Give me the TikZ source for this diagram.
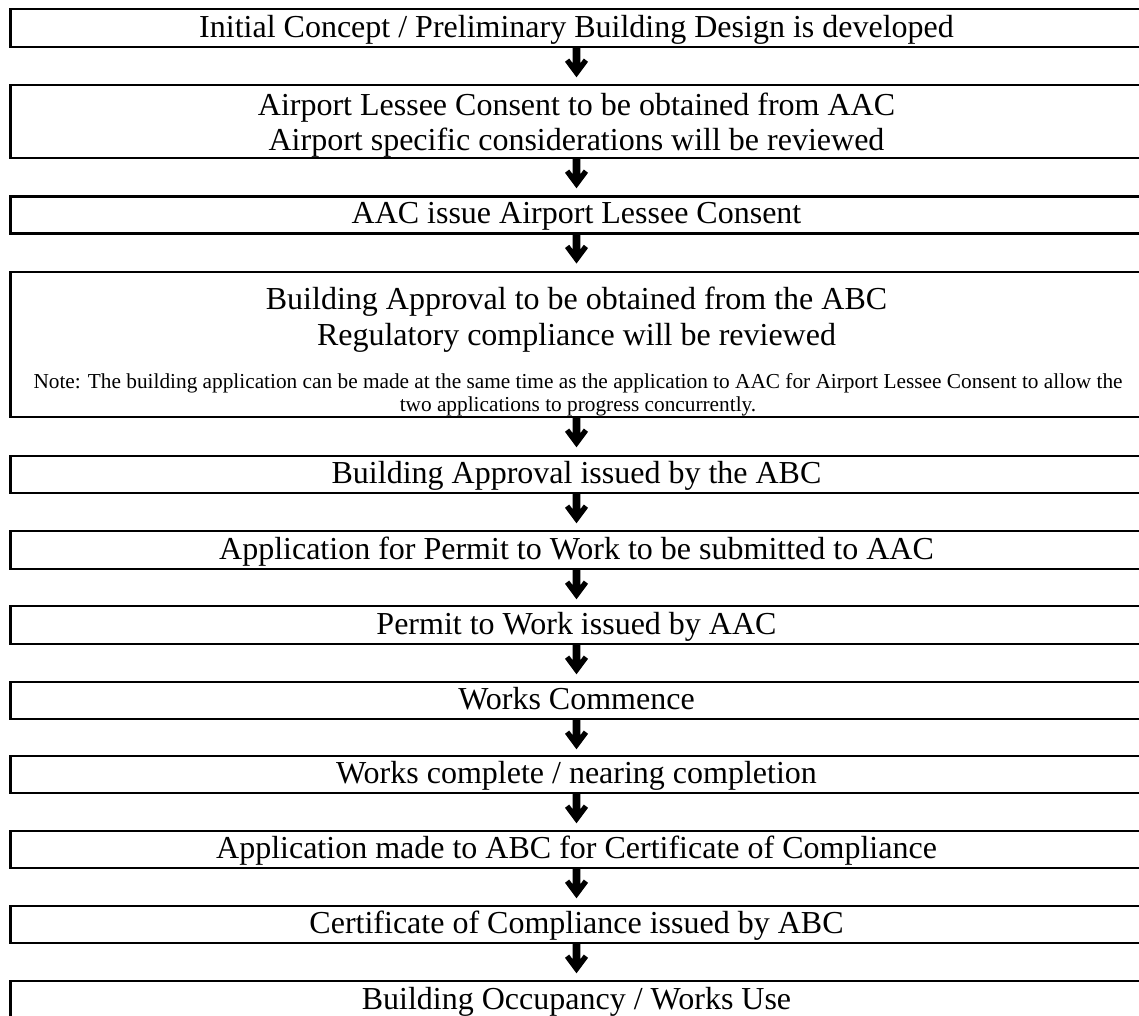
\documentclass[tikz,border=0pt]{standalone}
\usepackage{fontspec}
\setmainfont{Liberation Serif}
\tikzset{
  box/.style={draw=black, line width=2.6pt, minimum width=1132pt, inner sep=0pt, anchor=center},
  maintext/.style={font=\fontsize{32}{36}\selectfont, anchor=base, inner sep=0pt},
  notetext/.style={font=\fontsize{21.3}{23}\selectfont, anchor=base, inner sep=0pt},
  flow/.style={fill=black}
}
\newcommand{\flowarrow}[2]{%
  \fill[flow, shift={(#1.south)}] (-3.8,-1) -- (3.8,-1) -- (3.8,15) -- (7.3,10.2) -- (11.5,13.5)
    -- (0,29) -- (-11.5,13.5) -- (-7.3,10.2) -- (-3.8,15) -- cycle;}
\begin{document}
\begin{tikzpicture}[x=1pt,y=-1pt]
\useasboundingbox (0,0) rectangle (1139,1015);
\fill[white] (0,0) rectangle (1139,1015);
\clip (0,0) rectangle (1139,1015);

\node[box, minimum height=38pt] (b1) at (576.5,28) {};
\node[box, minimum height=73pt] (b2) at (576.5,121.5) {};
\node[box, minimum height=36.5pt] (b3) at (576.5,215) {};
\node[box, minimum height=145pt] (b4) at (576.5,344.5) {};
\node[box, minimum height=37pt] (b5) at (576.5,474.5) {};
\node[box, minimum height=38pt] (b6) at (576.5,550) {};
\node[box, minimum height=38pt] (b7) at (576.5,625) {};
\node[box, minimum height=37pt] (b8) at (576.5,700.5) {};
\node[box, minimum height=37pt] (b9) at (576.5,774.5) {};
\node[box, minimum height=37pt] (b10) at (576.5,849.5) {};
\node[box, minimum height=37pt] (b11) at (576.5,924.5) {};
\node[box, minimum height=39pt] (b12) at (576.5,1000.5) {};

\node[maintext] (t1) at (576.5,37) {Initial Concept / Preliminary Building Design is developed};
\node[maintext] (t2a) at (576.5,115) {Airport Lessee Consent to be obtained from AAC};
\node[maintext] (t2b) at (576.5,150) {Airport specific considerations will be reviewed};
\node[maintext] (t3) at (576.5,223) {AAC issue Airport Lessee Consent};
\node[maintext] (t4a) at (576.5,309) {Building Approval to be obtained from the ABC};
\node[maintext] (t4b) at (576.5,345) {Regulatory compliance will be reviewed};
\node[notetext] (n4a) at (578,388) {Note: The building application can be made at the same time as the application to AAC for Airport Lessee Consent to allow the};
\node[notetext] (n4b) at (578,411) {two applications to progress concurrently.};
\node[maintext] (t5) at (576.5,483) {Building Approval issued by the ABC};
\node[maintext] (t6) at (576.5,559) {Application for Permit to Work to be submitted to AAC};
\node[maintext] (t7) at (576.5,634) {Permit to Work issued by AAC};
\node[maintext] (t8) at (576.5,709) {Works Commence};
\node[maintext] (t9) at (576.5,783) {Works complete / nearing completion};
\node[maintext] (t10) at (576.5,858) {Application made to ABC for Certificate of Compliance};
\node[maintext] (t11) at (576.5,933) {Certificate of Compliance issued by ABC};
\node[maintext] (t12) at (576.5,1009) {Building Occupancy / Works Use};

\flowarrow{b1}{b2}
\flowarrow{b2}{b3}
\flowarrow{b3}{b4}
\flowarrow{b4}{b5}
\flowarrow{b5}{b6}
\flowarrow{b6}{b7}
\flowarrow{b7}{b8}
\flowarrow{b8}{b9}
\flowarrow{b9}{b10}
\flowarrow{b10}{b11}
\flowarrow{b11}{b12}
\end{tikzpicture}
\end{document}
